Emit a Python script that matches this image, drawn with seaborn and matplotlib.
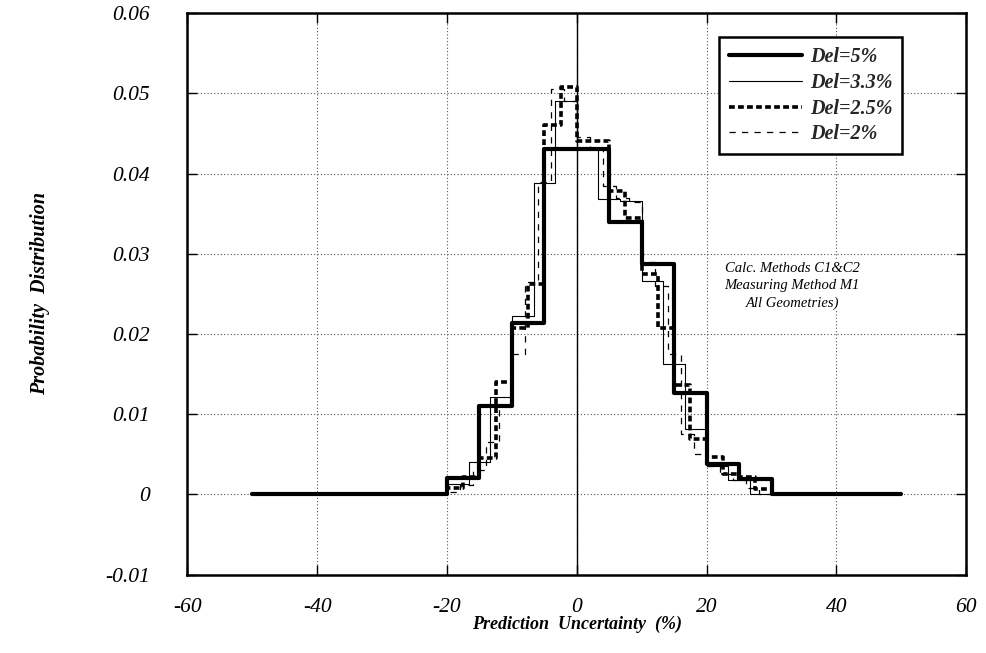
import numpy as np
import pandas as pd
import matplotlib
matplotlib.use("Agg")
import matplotlib.pyplot as plt
import seaborn as sns

# ---- data (bin edges and step heights) ----
edges_5 = [-50, -20, -15, -10, -5, 0, 5, 10, 15, 20, 25, 30, 50]
vals_5 = [0, 0.0020, 0.0110, 0.0214, 0.0430, 0.0430, 0.0340, 0.0287, 0.0127, 0.0038, 0.0019, 0]

edges_33 = [-50, -20, -16.67, -13.33, -10, -6.67, -3.33, 0, 3.33, 6.67, 10,
            13.33, 16.67, 20, 23.33, 26.67, 50]
vals_33 = [0, 0.0013, 0.0040, 0.0122, 0.0223, 0.0388, 0.0490, 0.0430, 0.0368,
           0.0366, 0.0266, 0.0163, 0.0082, 0.0036, 0.0018, 0]

edges_25 = [-50, -20, -17.5, -15, -12.5, -10, -7.5, -5, -2.5, 0, 2.5, 5, 7.5, 10,
            12.5, 15, 17.5, 20, 22.5, 25, 27.5, 30, 50]
vals_25 = [0, 0.0008, 0.0022, 0.0046, 0.0140, 0.0208, 0.0262, 0.0460, 0.0508,
           0.0440, 0.0440, 0.0378, 0.0345, 0.0275, 0.0207, 0.0136, 0.0069,
           0.0047, 0.0026, 0.0022, 0.0007, 0]

edges_2 = [-50, -20, -18, -16, -14, -12, -10, -8, -6, -4, -2, 0, 2, 4, 6, 8, 10,
           12, 14, 16, 18, 20, 22, 24, 26, 28, 50]
vals_2 = [0, 0.0003, 0.0012, 0.0030, 0.0065, 0.0110, 0.0175, 0.0265, 0.0390,
          0.0505, 0.0490, 0.0445, 0.0430, 0.0385, 0.0370, 0.0365, 0.0290,
          0.0260, 0.0175, 0.0075, 0.0050, 0.0035, 0.0025, 0.0018, 0.0008, 0]

labels = ["Del=5%", "Del=3.3%", "Del=2.5%", "Del=2%"]
x_ticks = [-60, -40, -20, 0, 20, 40, 60]
y_ticks = [-0.01, 0, 0.01, 0.02, 0.03, 0.04, 0.05, 0.06]
y_ticklabels = ["-0.01", "0", "0.01", "0.02", "0.03", "0.04", "0.05", "0.06"]

series = [(edges_5, vals_5), (edges_33, vals_33), (edges_25, vals_25), (edges_2, vals_2)]
styles = [
    dict(lw=3.0, ls="-"),
    dict(lw=0.8, ls="-"),
    dict(lw=2.6, ls=(0, (1.6, 0.9))),
    dict(lw=0.9, ls=(0, (5, 5))),
]

sns.set_theme(style="white")
plt.rcParams["font.family"] = ["Liberation Serif", "DejaVu Serif"]

fig = plt.figure(figsize=(9.86, 6.53), dpi=100)
ax = fig.add_axes([0.19, 0.12, 0.79, 0.86])

for (edges, vals), lab, st in zip(series, labels, styles):
    df = pd.DataFrame({"x": edges, "y": list(vals) + [vals[-1]]})
    sns.lineplot(data=df, x="x", y="y", ax=ax, estimator=None, sort=False,
                 drawstyle="steps-post", color="black", linewidth=st["lw"],
                 linestyle=st["ls"], label=lab)

ax.axvline(0, color="black", lw=1.0, zorder=1)

ax.set_xlim(-60, 60)
ax.set_ylim(-0.01, 0.06)
ax.set_xticks(x_ticks)
ax.set_xticklabels([str(t) for t in x_ticks])
ax.set_yticks(y_ticks)
ax.set_yticklabels(y_ticklabels)
ax.grid(True, color="#555555", linestyle=(0, (1, 2)), linewidth=0.8)
for s in ax.spines.values():
    s.set_color("black")
    s.set_linewidth(1.8)
ax.tick_params(axis="both", which="major", direction="in", length=7, width=1,
               top=True, right=True, bottom=True, left=True,
               labelsize=15.5, colors="black")
ax.tick_params(axis="y", pad=27)
ax.tick_params(axis="x", pad=17)
for t in ax.get_xticklabels() + ax.get_yticklabels():
    t.set_fontstyle("italic")

ax.set_xlabel("Prediction  Uncertainty  (%)", fontsize=13, fontstyle="italic",
              fontweight="bold", labelpad=-1)
ax.set_ylabel("Probability  Distribution", fontsize=14.5, fontstyle="italic",
              fontweight="bold", labelpad=40)
ax.xaxis.label.set_color("black")
ax.yaxis.label.set_color("black")

leg = ax.legend(loc="upper right", bbox_to_anchor=(0.918, 0.957), frameon=True,
                fancybox=False, framealpha=1, edgecolor="black",
                prop=dict(family=["Liberation Serif"], style="italic", weight="bold", size=14.5),
                handlelength=3.6, handletextpad=0.4, borderpad=0.5, labelspacing=0.28,
                borderaxespad=0)
leg.get_frame().set_linewidth(1.8)

ax.text(33.2, 0.026, "Calc. Methods C1&C2\nMeasuring Method M1\nAll Geometries)",
        ha="center", va="center", fontsize=10.5, fontstyle="italic",
        linespacing=1.4, color="black",
        bbox=dict(facecolor="white", edgecolor="none", pad=1))

fig.savefig("out.png", dpi=100)
